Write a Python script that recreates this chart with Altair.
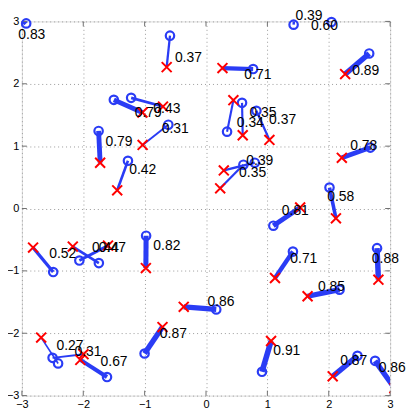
import altair as alt
import pandas as pd

# label text of each pair
values = ["0.83", "0.37", "0.79", "0.43", "0.31", "0.79", "0.42", "0.39", "0.60",
          "0.71", "0.89", "0.34", "0.35", "0.37", "0.78", "0.39", "0.35", "0.58",
          "0.81", "0.71", "0.88", "0.85", "0.86", "0.91", "0.87", "0.86", "0.82",
          "0.87", "0.52", "0.44", "0.47", "0.27", "0.31", "0.67"]
# blue circles
circle_x = [-2.930, -0.587, -1.502, -1.220, -0.614, -1.750, -1.272, 1.427, 2.044,
            0.768, 2.659, 0.343, 0.587, 0.821, 2.678, 0.794, 0.609, 2.012,
            1.097, 1.416, 2.787, 2.176, 0.167, 0.912, 2.468, 2.755, -0.976,
            -1.001, -2.490, -1.746, -2.064, -2.410, -2.500, -1.613]
circle_y = [2.968, 2.772, 1.742, 1.774, 1.344, 1.243, 0.765, 2.948, 2.989,
            2.236, 2.486, 1.232, 1.694, 1.567, 0.977, 0.734, 0.702, 0.335,
            -0.276, -0.691, -0.636, -1.301, -1.619, -2.618, -2.363, -2.443, -0.436,
            -2.325, -1.019, -0.875, -0.834, -2.484, -2.395, -2.702]
# red crosses
cross_x = [-3.25, -0.641, -1.036, -0.701, -1.033, -1.725, -1.447, 1.50, 1.90,
           0.268, 2.267, 0.446, 0.598, 1.033, 2.213, 0.290, 0.231, 2.117,
           1.534, 1.124, 2.809, 1.655, -0.363, 1.060, 2.064, 3.07, -0.980,
           -0.709, -2.818, -2.171, -1.597, -2.686, -1.996, -2.048]
cross_y = [3.30, 2.267, 1.540, 1.635, 1.020, 0.734, 0.292, 3.50, 3.50,
           2.252, 2.156, 1.737, 1.175, 1.100, 0.813, 0.611, 0.324, -0.158,
           0.017, -1.114, -1.141, -1.407, -1.576, -2.124, -2.691, -2.88, -0.955,
           -1.901, -0.627, -0.611, -0.595, -2.070, -2.336, -2.427]
# label anchors (left edge, vertical centre)
label_x = [-3.058, -0.507, -1.161, -0.858, -0.721, -1.639, -1.251, 1.459, 1.709,
           0.625, 2.383, 0.502, 0.709, 1.028, 2.351, 0.657, 0.539, 1.974,
           1.235, 1.374, 2.702, 1.825, 0.024, 1.097, 2.187, 2.814, -0.858,
           -0.752, -2.554, -1.857, -1.746, -2.436, -2.144, -1.718]
label_y = [2.777, 2.416, 1.527, 1.598, 1.275, 1.073, 0.611, 3.085, 2.921,
           2.140, 2.204, 1.364, 1.524, 1.423, 0.998, 0.754, 0.574, 0.186,
           -0.042, -0.812, -0.807, -1.264, -1.503, -2.293, -2.443, -2.564, -0.600,
           -2.017, -0.732, -0.632, -0.640, -2.201, -2.299, -2.468]
tick_values = [-3, -2, -1, 0, 1, 2, 3]

df = pd.DataFrame({
    "v": values,
    "w": [float(s) for s in values],
    "cx": circle_x, "cy": circle_y,
    "kx": cross_x, "ky": cross_y,
    "lx": label_x, "ly": label_y,
})
ticks = pd.DataFrame({"t": tick_values})

W, H = 371, 377
BLUE = "#2a3cf5"
FONT = "Liberation Sans"

xs = alt.Scale(domain=[-3, 3], nice=False, zero=False)
ys = alt.Scale(domain=[-3, 3], nice=False, zero=False)

def make_axis():
    return alt.Axis(values=tick_values, grid=True, gridDash=[1, 3], gridColor="#9a9a9a",
                    gridWidth=1, domain=False, ticks=False, labelFontSize=11,
                    labelFont=FONT, labelColor="black", labelPadding=3,
                    labelFlush=False, title=None)

def X(field):
    return alt.X(field, type="quantitative", scale=xs, axis=make_axis())

def Y(field):
    return alt.Y(field, type="quantitative", scale=ys, axis=make_axis())

lines = alt.Chart(df).mark_rule(clip=True, color=BLUE, strokeCap="butt").encode(
    x=X("cx"), y=Y("cy"),
    x2="kx:Q", y2="ky:Q",
    strokeWidth=alt.StrokeWidth("w:Q", scale=alt.Scale(domain=[0, 1], range=[0, 6.2]), legend=None),
)

circles = alt.Chart(df).mark_point(shape="circle", filled=False, size=72, strokeWidth=2.2,
                                   color=BLUE, opacity=1).encode(x=X("cx"), y=Y("cy"))

crosses = alt.Chart(df).mark_point(shape="M-1,-1L1,1M1,-1L-1,1", filled=False, size=100,
                                   strokeWidth=2, color="#ff0000", opacity=1, clip=True).encode(
    x=X("kx"), y=Y("ky"))

texts = alt.Chart(df).mark_text(align="left", baseline="middle", font=FONT, fontSize=14,
                                color="black").encode(x=X("lx"), y=Y("ly"), text="v:N")

TL = 5
tb = alt.Chart(ticks).mark_rule(color="#707070", strokeWidth=1).encode(
    x=X("t"), y=alt.value(H), y2=alt.value(H - TL))
tt = alt.Chart(ticks).mark_rule(color="#707070", strokeWidth=1).encode(
    x=X("t"), y=alt.value(0), y2=alt.value(TL))
tl = alt.Chart(ticks).mark_rule(color="#707070", strokeWidth=1).encode(
    y=Y("t"), x=alt.value(0), x2=alt.value(TL))
tr = alt.Chart(ticks).mark_rule(color="#707070", strokeWidth=1).encode(
    y=Y("t"), x=alt.value(W), x2=alt.value(W - TL))

chart = alt.layer(lines, tb, tt, tl, tr, circles, crosses, texts).properties(
    width=W, height=H,
    autosize=alt.AutoSizeParams(type="none"),
    padding={"left": 14, "top": 12, "right": 17, "bottom": 14},
).configure_view(stroke="#787878", strokeWidth=1.6).configure(background="white")

chart.save("out.html", embed_options={"renderer": "svg", "actions": False})
